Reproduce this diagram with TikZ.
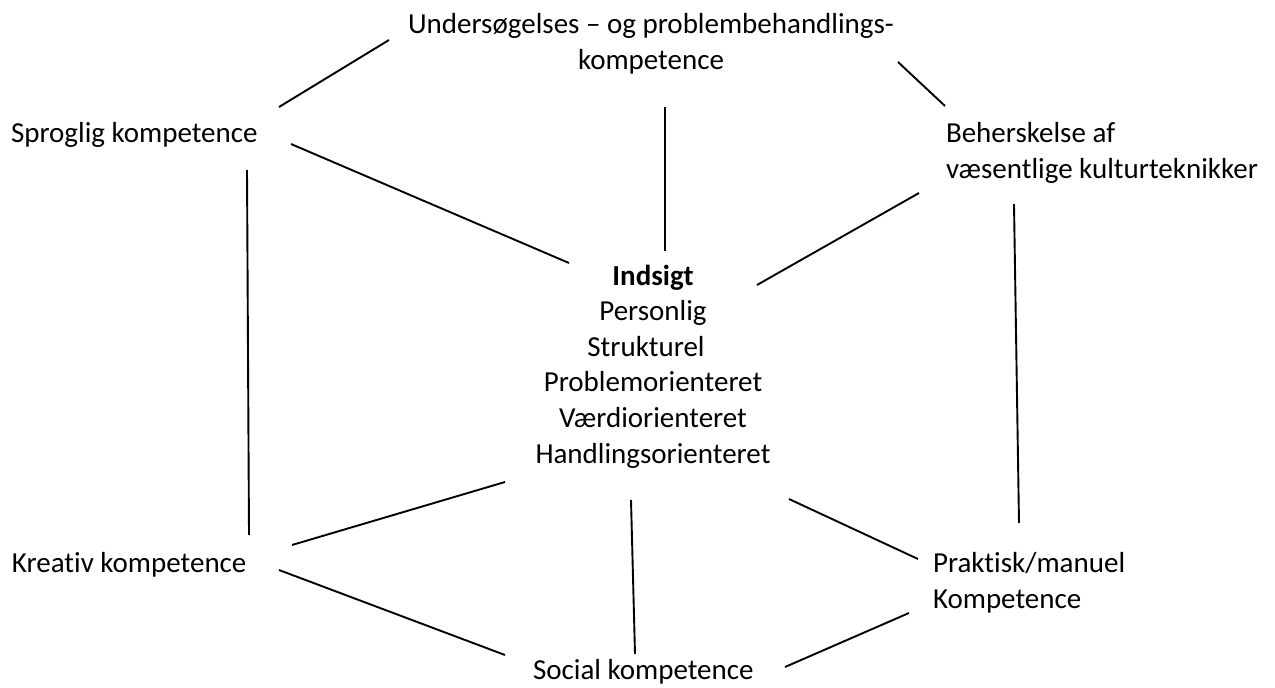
\documentclass[tikz,border=0pt]{standalone}
\usepackage{fontspec}
\setmainfont{Carlito}[Ligatures=CommonOff]
\newcommand\hstrut{\rule{0pt}{24pt}}
\begin{document}
\begin{tikzpicture}[x=1pt,y=-1pt,
  lbl/.style={inner sep=0pt, outer sep=0pt, font=\fontsize{29}{36}\selectfont},
  conn/.style={line width=1.9pt, line cap=butt}]
\useasboundingbox (0,0) rectangle (1275,688);
% text nodes
\node[lbl, anchor=north, align=center] (und) at (651,9) {\hstrut Undersøgelses – og problembehandlings-\\kompetence};
\node[lbl, anchor=base west] (spr) at (11,142) {Sproglig kompetence};
\node[lbl, anchor=north west, align=left] (beh) at (946,118) {\hstrut Beherskelse af\\væsentlige kulturteknikker};
\node[lbl, anchor=north, align=center, font=\fontsize{29}{35.6}\selectfont] (ind) at (653,261)
  {\hstrut\textbf{Indsigt}\\Personlig\\Strukturel\rule{14pt}{0pt}\\Problemorienteret\\Værdiorienteret\\Handlingsorienteret};
\node[lbl, anchor=base west] (kre) at (12,572) {Kreativ kompetence};
\node[lbl, anchor=north west, align=left] (pra) at (933,548) {\hstrut Praktisk/manuel\\Kompetence};
\node[lbl, anchor=base west] (soc) at (533,679) {Social kompetence};
% connector end points
\coordinate (sprA) at (279,107);  \coordinate (undA) at (389,40);
\coordinate (sprB) at (291,144);  \coordinate (indB) at (569,263);
\coordinate (undC) at (898,62);   \coordinate (behC) at (945,106);
\coordinate (behD) at (919,193);  \coordinate (indD) at (757,285);
\coordinate (undE) at (665,107);  \coordinate (indE) at (665,251);
\coordinate (sprF) at (247,170);  \coordinate (kreF) at (249,535);
\coordinate (behG) at (1014,204); \coordinate (praG) at (1019,523);
\coordinate (kreH) at (292,545);  \coordinate (indH) at (505,482);
\coordinate (kreI) at (279,570);  \coordinate (socI) at (505,655);
\coordinate (indJ) at (631,500);  \coordinate (socJ) at (635,654);
\coordinate (indK) at (789,499);  \coordinate (praK) at (918,559);
\coordinate (socL) at (785,667);  \coordinate (praL) at (909,613);
% connectors
\draw[conn] (sprA) -- (undA);
\draw[conn] (sprB) -- (indB);
\draw[conn] (undC) -- (behC);
\draw[conn] (behD) -- (indD);
\draw[conn] (undE) -- (indE);
\draw[conn] (sprF) -- (kreF);
\draw[conn] (behG) -- (praG);
\draw[conn] (kreH) -- (indH);
\draw[conn] (kreI) -- (socI);
\draw[conn] (indJ) -- (socJ);
\draw[conn] (indK) -- (praK);
\draw[conn] (socL) -- (praL);
\end{tikzpicture}
\end{document}
